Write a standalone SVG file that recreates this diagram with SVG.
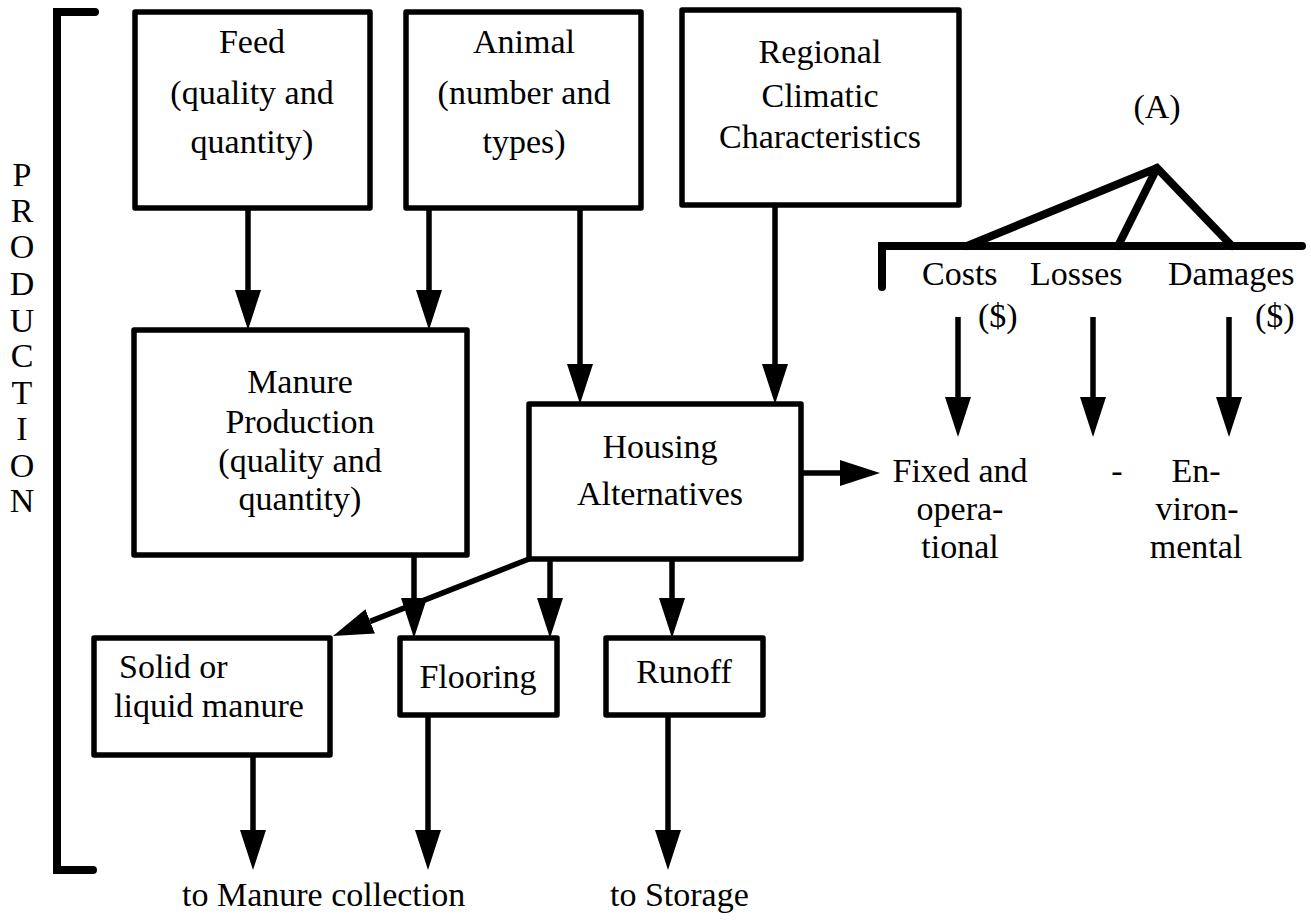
<svg xmlns="http://www.w3.org/2000/svg" width="1311" height="920" viewBox="0 0 1311 920">
<defs>
<style>
.box{fill:#fff;stroke:#000;stroke-width:5.5;stroke-linejoin:round}
text{font-family:'Liberation Serif','Times New Roman',Times,'DejaVu Serif',serif;font-size:34px;fill:#000}
.c{text-anchor:middle}
.ln{stroke:#000;stroke-width:5.5;fill:none}
.heavy{stroke:#000;stroke-width:8;fill:none;stroke-linecap:round}
</style>
<marker id="ah" markerUnits="userSpaceOnUse" markerWidth="42" markerHeight="28" refX="0" refY="13" orient="auto" viewBox="0 0 42 26">
<path d="M0,0 L40,13 L0,26 z" fill="#000"/>
</marker>
</defs>
<rect width="1311" height="920" fill="#fff"/>

<g id="bracket" font-family="Liberation Serif, serif">
<path class="heavy" d="M93,870 L57,870 L57,12 L95,12"/>
<text class="c" x="22" y="186">P</text>
<text class="c" x="22" y="222">R</text>
<text class="c" x="22" y="258">O</text>
<text class="c" x="22" y="295">D</text>
<text class="c" x="22" y="332">U</text>
<text class="c" x="22" y="367">C</text>
<text class="c" x="22" y="404">T</text>
<text class="c" x="22" y="440">I</text>
<text class="c" x="22" y="477">O</text>
<text class="c" x="22" y="512">N</text>
</g>

<g id="connectors">
<line class="ln" x1="248" y1="208" x2="248" y2="290" marker-end="url(#ah)"/>
<line class="ln" x1="429" y1="208" x2="429" y2="290" marker-end="url(#ah)"/>
<line class="ln" x1="580" y1="208" x2="580" y2="364" marker-end="url(#ah)"/>
<line class="ln" x1="775" y1="205" x2="775" y2="364" marker-end="url(#ah)"/>
<line class="ln" x1="801" y1="473" x2="840" y2="473" marker-end="url(#ah)"/>
<line class="ln" x1="414" y1="555" x2="414" y2="598" marker-end="url(#ah)"/>
<line class="ln" x1="550" y1="559" x2="550" y2="598" marker-end="url(#ah)"/>
<line class="ln" x1="672" y1="559" x2="672" y2="598" marker-end="url(#ah)"/>
<line class="ln" x1="529" y1="559" x2="370.2" y2="621.4" marker-end="url(#ah)"/>
<line class="ln" x1="253" y1="755" x2="253" y2="830" marker-end="url(#ah)"/>
<line class="ln" x1="428" y1="715" x2="428" y2="830" marker-end="url(#ah)"/>
<line class="ln" x1="668" y1="715" x2="668" y2="830" marker-end="url(#ah)"/>
<line class="ln" x1="958" y1="317" x2="958" y2="397" marker-end="url(#ah)"/>
<line class="ln" x1="1093" y1="317" x2="1093" y2="397" marker-end="url(#ah)"/>
<line class="ln" x1="1229" y1="317" x2="1229" y2="397" marker-end="url(#ah)"/>
</g>

<g id="feed">
<rect class="box" x="135" y="12" width="235" height="196"/>
<text class="c" x="252" y="53">Feed</text>
<text class="c" x="252" y="104">(quality and</text>
<text class="c" x="252" y="153">quantity)</text>
</g>

<g id="animal">
<rect class="box" x="406" y="12" width="235" height="196"/>
<text class="c" x="524" y="53">Animal</text>
<text class="c" x="524" y="104">(number and</text>
<text class="c" x="524" y="153">types)</text>
</g>

<g id="regional">
<rect class="box" x="682" y="10" width="277" height="195"/>
<text class="c" x="820" y="63">Regional</text>
<text class="c" x="820" y="107">Climatic</text>
<text class="c" x="820" y="148">Characteristics</text>
</g>

<g id="manure">
<rect class="box" x="134" y="330" width="333" height="225"/>
<text class="c" x="300" y="393">Manure</text>
<text class="c" x="300" y="433">Production</text>
<text class="c" x="300" y="472">(quality and</text>
<text class="c" x="300" y="510">quantity)</text>
</g>

<g id="housing">
<rect class="box" x="529" y="404" width="272" height="155"/>
<text class="c" x="660" y="458">Housing</text>
<text class="c" x="660" y="505">Alternatives</text>
</g>

<g id="solid">
<rect class="box" x="94" y="638" width="236" height="117"/>
<text x="119" y="678">Solid or</text>
<text x="114" y="717">liquid manure</text>
</g>

<g id="flooring">
<rect class="box" x="400" y="638" width="157" height="77"/>
<text class="c" x="478" y="688">Flooring</text>
</g>

<g id="runoff">
<rect class="box" x="606" y="638" width="157" height="77"/>
<text class="c" x="684" y="683">Runoff</text>
</g>

<g id="outputs">
<text x="182" y="906">to Manure collection</text>
<text x="610" y="906">to Storage</text>
</g>

<g id="tree">
<text class="c" x="1157" y="118">(A)</text>
<path class="heavy" d="M882,287 L882,246 L1302,246"/>
<path class="heavy" d="M967,246 L1157,168 L1232,246 M1118,246 L1157,168" stroke-linejoin="miter"/>
<text x="922" y="285">Costs</text>
<text x="1030" y="285">Losses</text>
<text x="1168" y="285">Damages</text>
<text x="978" y="327">($)</text>
<text x="1255" y="327">($)</text>
</g>

<g id="categories">
<text class="c" x="960" y="482">Fixed and</text>
<text class="c" x="960" y="520">opera-</text>
<text class="c" x="960" y="558">tional</text>
<text class="c" x="1117" y="482">-</text>
<text class="c" x="1196" y="482">En-</text>
<text class="c" x="1197" y="520">viron-</text>
<text class="c" x="1196" y="558">mental</text>
</g>
</svg>
